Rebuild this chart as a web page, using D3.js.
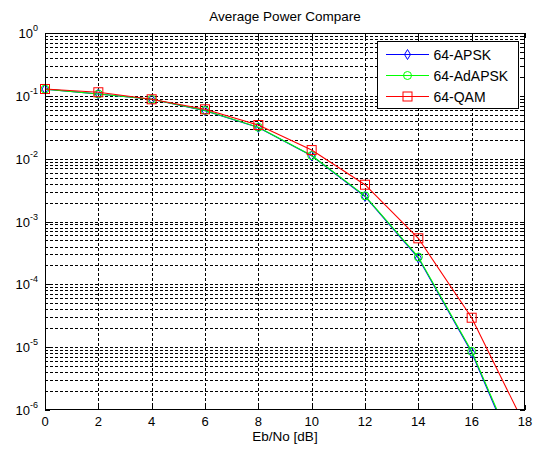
<!DOCTYPE html>
<html>
<head>
<meta charset="utf-8">
<script src="https://cdn.jsdelivr.net/npm/d3@7/dist/d3.min.js"></script>
<style>
  html, body { margin: 0; padding: 0; background: #fff; }
  svg { display: block; font-family: "Liberation Sans", Arial, sans-serif; }
</style>
</head>
<body>
<svg id="chart" width="538" height="450"></svg>
<script>
// Eb/No sweep in dB
const ebno = [0, 2, 4, 6, 8, 10, 12, 14, 16, 18];
// Bit error rate per modulation
const ber64APSK   = [0.128, 0.107, 0.088, 0.0582, 0.0314, 0.0111, 0.00250, 2.62e-4, 8.2e-6, 8.5e-8];
const ber64AdAPSK = [0.128, 0.107, 0.088, 0.0585, 0.0316, 0.0112, 0.00256, 2.72e-4, 8.6e-6, 9.3e-8];
const ber64QAM    = [0.1285, 0.114, 0.0881, 0.061, 0.0343, 0.0137, 0.00385, 5.4e-4, 2.94e-5, 5.6e-7];
const seriesNames = ["64-APSK", "64-AdAPSK", "64-QAM"];
const xTicks = [0, 2, 4, 6, 8, 10, 12, 14, 16, 18];
const yExponents = [0, -1, -2, -3, -4, -5, -6];

const series = [
  { name: seriesNames[0], values: ber64APSK,   color: "#0000ff", marker: "diamond" },
  { name: seriesNames[1], values: ber64AdAPSK, color: "#00ff00", marker: "circle" },
  { name: seriesNames[2], values: ber64QAM,    color: "#ff0000", marker: "square" }
];

const svg = d3.select("#chart");
const L = 45, R = 525, T = 33, B = 410;

const x = d3.scaleLinear().domain([0, 18]).range([L, R]);
const y = d3.scaleLog().domain([1e-6, 1]).range([B, T]);

// dotted grid: every x tick, every decade and its 2..9 sub-divisions
const yGrid = [];
for (let e = -6; e < 0; e++) for (let k = 1; k <= 9; k++) yGrid.push(k * Math.pow(10, e));

const grid = svg.append("g").attr("stroke", "#000").attr("stroke-width", 1)
  .attr("stroke-dasharray", "3,2").attr("shape-rendering", "crispEdges");
grid.selectAll("line.gy").data(yGrid.filter(v => v > 1e-6)).join("line")
  .attr("x1", L).attr("x2", R)
  .attr("y1", d => Math.round(y(d)) + 0.5).attr("y2", d => Math.round(y(d)) + 0.5);
grid.selectAll("line.gx").data(xTicks.filter(v => v > 0 && v < 18)).join("line")
  .attr("y1", T).attr("y2", B)
  .attr("x1", d => Math.round(x(d)) + 0.5).attr("x2", d => Math.round(x(d)) + 0.5);

// axes with inward ticks on all four sides
const xAxisB = d3.axisBottom(x).tickValues(xTicks).tickSize(-5).tickFormat("");
const xAxisT = d3.axisTop(x).tickValues(xTicks).tickSize(-5).tickFormat("");
const yMinor = yGrid.filter(v => Math.abs(Math.log10(v) - Math.round(Math.log10(v))) > 1e-9);
const yMajor = yExponents.map(e => Math.pow(10, e));

function styleAxis(g) {
  g.select(".domain").remove();
  g.selectAll(".tick line").attr("stroke", "#000").attr("shape-rendering", "crispEdges");
}
svg.append("g").attr("transform", `translate(0,${B})`).call(xAxisB).call(styleAxis);
svg.append("g").attr("transform", `translate(0,${T})`).call(xAxisT).call(styleAxis);
svg.append("g").attr("transform", `translate(${L},0)`)
  .call(d3.axisLeft(y).tickValues(yMajor).tickSize(-5).tickFormat("")).call(styleAxis);
svg.append("g").attr("transform", `translate(${L},0)`)
  .call(d3.axisLeft(y).tickValues(yMinor).tickSize(-3).tickFormat("")).call(styleAxis);
svg.append("g").attr("transform", `translate(${R},0)`)
  .call(d3.axisRight(y).tickValues(yMajor).tickSize(-5).tickFormat("")).call(styleAxis);
svg.append("g").attr("transform", `translate(${R},0)`)
  .call(d3.axisRight(y).tickValues(yMinor).tickSize(-3).tickFormat("")).call(styleAxis);

// tick labels
svg.append("g").selectAll("text").data(xTicks).join("text")
  .attr("x", d => x(d)).attr("y", B + 16)
  .attr("text-anchor", "middle").attr("font-size", 13).attr("fill", "#000")
  .text(d => d);

const yl = svg.append("g").selectAll("text").data(yExponents).join("text")
  .attr("x", 38).attr("y", d => y(Math.pow(10, d)) + 5)
  .attr("text-anchor", "end").attr("font-size", 13).attr("fill", "#000");
yl.append("tspan").text("10");
yl.append("tspan").attr("font-size", 9).attr("dy", -7).text(d => d);

// data lines clipped to the plotting box
svg.append("clipPath").attr("id", "plotClip").append("rect")
  .attr("x", L).attr("y", T).attr("width", R - L).attr("height", B - T);

const line = d3.line().x((d, i) => x(ebno[i])).y(d => y(d));

function drawMarker(g, type, color) {
  if (type === "square") {
    g.append("rect").attr("x", -4.5).attr("y", -4.5).attr("width", 9).attr("height", 9);
  } else if (type === "circle") {
    g.append("circle").attr("r", 4);
  } else {
    g.append("path").attr("d", "M0,-5L3,0L0,5L-3,0Z");
  }
  g.attr("fill", "none").attr("stroke", color).attr("stroke-width", 1);
}

series.forEach(s => {
  svg.append("path").datum(s.values)
    .attr("clip-path", "url(#plotClip)")
    .attr("fill", "none").attr("stroke", s.color).attr("stroke-width", 1.1)
    .attr("d", line);
  s.values.forEach((v, i) => {
    if (v < 1e-6) return;
    const g = svg.append("g").attr("transform", `translate(${x(ebno[i])},${y(v)})`);
    drawMarker(g, s.marker, s.color);
  });
});

// axes box
svg.append("rect").attr("x", L + 0.5).attr("y", T + 0.5)
  .attr("width", R - L - 1).attr("height", B - T - 1)
  .attr("fill", "none").attr("stroke", "#000").attr("shape-rendering", "crispEdges");

// title and axis label
svg.append("text").attr("x", (L + R) / 2).attr("y", 21).attr("text-anchor", "middle")
  .attr("font-size", 13.5).attr("fill", "#000").text("Average Power Compare");
svg.append("text").attr("x", (L + R) / 2).attr("y", 441).attr("text-anchor", "middle")
  .attr("font-size", 13.5).attr("fill", "#000").text("Eb/No [dB]");

// legend
const leg = svg.append("g");
leg.append("rect").attr("x", 377.5).attr("y", 41.5).attr("width", 141).attr("height", 67)
  .attr("fill", "#fff").attr("stroke", "#000").attr("shape-rendering", "crispEdges");
const legY = [54.5, 75.5, 96.5];
series.forEach((s, i) => {
  leg.append("line").attr("x1", 386).attr("x2", 429).attr("y1", legY[i]).attr("y2", legY[i])
    .attr("stroke", s.color).attr("stroke-width", 1.1);
  const g = leg.append("g").attr("transform", `translate(407.5,${legY[i]})`);
  drawMarker(g, s.marker, s.color);
  leg.append("text").attr("x", 433.5).attr("y", legY[i] + 5).attr("font-size", 14)
    .attr("fill", "#000").text(s.name);
});
</script>
</body>
</html>
